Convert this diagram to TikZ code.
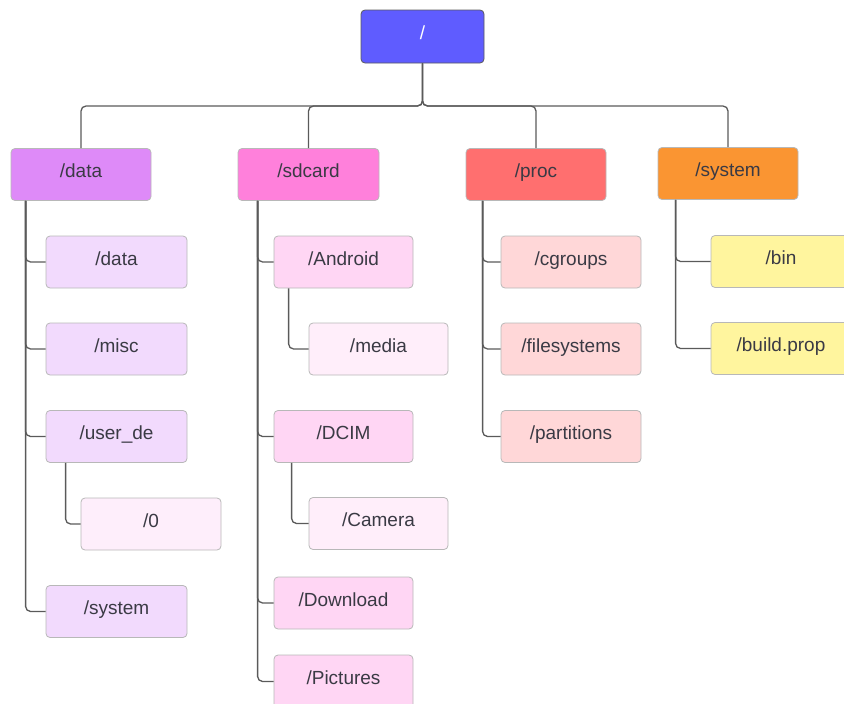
\documentclass[tikz,border=0pt]{standalone}
\usepackage{fontspec}
\setmainfont{Liberation Sans}
\usetikzlibrary{calc}
\definecolor{rootc}{HTML}{5F5CFF}
\definecolor{dataT}{HTML}{DE8AF8}
\definecolor{dataC}{HTML}{F2DAFD}
\definecolor{dataG}{HTML}{FEEEFB}
\definecolor{sdT}{HTML}{FF80DB}
\definecolor{sdC}{HTML}{FFD6F4}
\definecolor{sdG}{HTML}{FFEEFA}
\definecolor{procT}{HTML}{FF6F6F}
\definecolor{procC}{HTML}{FFD7D8}
\definecolor{sysT}{HTML}{FA9532}
\definecolor{sysC}{HTML}{FFF59E}
\definecolor{txt}{HTML}{3A3A44}
\definecolor{linec}{HTML}{5A5A5A}
\definecolor{bord}{HTML}{B8B8B8}
\tikzset{
  box/.style={draw=bord, line width=0.8pt, rounded corners=4pt, minimum width=140pt, minimum height=52pt, inner sep=0pt, text height=12pt, text depth=6pt, text=txt, font=\fontsize{19}{22}\selectfont},
  link/.style={draw=linec, line width=1.3pt, rounded corners=5pt}
}
\begin{document}
\begin{tikzpicture}[x=1pt,y=-1pt]
\useasboundingbox (0,0) rectangle (844,704);
% root
\node[box, fill=rootc, text=white, minimum width=123pt, minimum height=53pt, draw=linec] (root) at (422.5,36.5) {/};
% top level
\node[box, fill=dataT] (data) at (81,174.5) {/data};
\node[box, fill=sdT, minimum width=141pt] (sdcard) at (308.5,174.5) {/sdcard};
\node[box, fill=procT] (proc) at (536,174.5) {/proc};
\node[box, fill=sysT] (system) at (728,173.5) {/system};
% data children
\node[box, fill=dataC, minimum width=141pt] (ddata) at (116.5,262) {/data};
\node[box, fill=dataC, minimum width=141pt] (dmisc) at (116.5,349) {/misc};
\node[box, fill=dataC, minimum width=141pt] (duser) at (116.5,436.5) {/user\_de};
\node[box, fill=dataG] (dzero) at (151,524) {/0};
\node[box, fill=dataC, minimum width=141pt] (dsys) at (116.5,611.5) {/system};
% sdcard children
\node[box, fill=sdC, minimum width=139pt] (sand) at (343.5,262) {/Android};
\node[box, fill=sdG, minimum width=139pt] (smedia) at (378.5,349) {/media};
\node[box, fill=sdC, minimum width=139pt] (sdcim) at (343.5,436.5) {/DCIM};
\node[box, fill=sdG, minimum width=139pt] (scam) at (378.5,523.5) {/Camera};
\node[box, fill=sdC, minimum width=139pt] (sdown) at (343.5,603) {/Download};
\node[box, fill=sdC, minimum width=139pt, minimum height=53pt] (spic) at (343.5,681.5) {/Pictures};
% proc children
\node[box, fill=procC] (pcg) at (571,262) {/cgroups};
\node[box, fill=procC] (pfs) at (571,349) {/filesystems};
\node[box, fill=procC] (ppart) at (571,436.5) {/partitions};
% system children
\node[box, fill=sysC] (sbin) at (781,261.5) {/bin};
\node[box, fill=sysC] (sbuild) at (781,348.5) {/build.prop};
% root to top level
\coordinate (bus) at (422.5,106);
\foreach \t in {data,sdcard,proc,system}{
  \draw[link] (root.south) -- (bus) -| (\t.north);
}
% data
\foreach \c in {ddata,dmisc,duser,dsys}{
  \draw[link] ($(data.south west)+(15,0)$) |- (\c.west);
}
\draw[link] ($(duser.south west)+(20,0)$) |- (dzero.west);
% sdcard
\foreach \c in {sand,sdcim,sdown,spic}{
  \draw[link] ($(sdcard.south west)+(20,0)$) |- (\c.west);
}
\draw[link] ($(sand.south west)+(15,0)$) |- (smedia.west);
\draw[link] ($(sdcim.south west)+(18,0)$) |- (scam.west);
% proc
\foreach \c in {pcg,pfs,ppart}{
  \draw[link] ($(proc.south west)+(17,0)$) |- (\c.west);
}
% system
\foreach \c in {sbin,sbuild}{
  \draw[link] ($(system.south west)+(18,0)$) |- (\c.west);
}
\end{tikzpicture}
\end{document}
